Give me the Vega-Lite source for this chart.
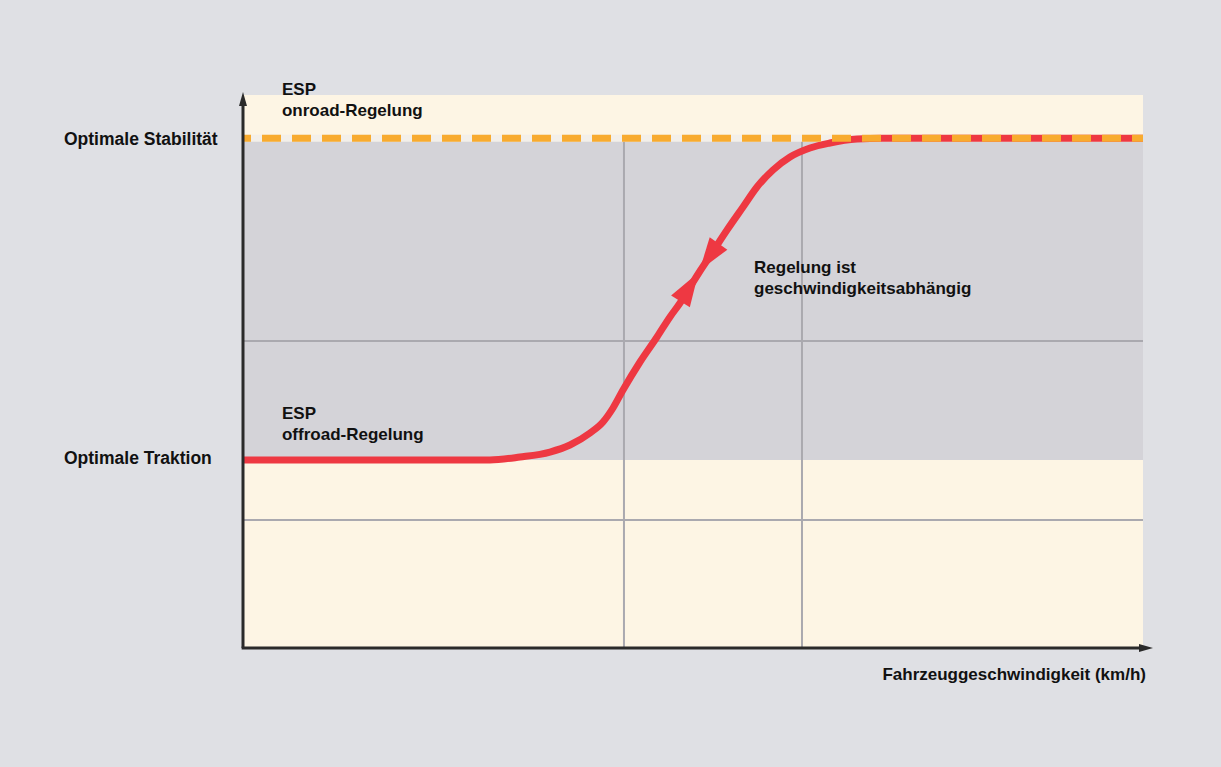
{
  "$schema": "https://vega.github.io/schema/vega-lite/v6.json",
  "width": 900,
  "height": 553,
  "autosize": {"type": "none"},
  "padding": {"left": 243, "top": 95, "right": 78, "bottom": 119},
  "background": "#dfe0e4",
  "config": {
    "view": {"stroke": null, "fill": "#fdf5e4"},
    "text": {"font": "Liberation Sans", "fontWeight": "bold", "fill": "#111111"}
  },
  "datasets": {
    "curve": [
      {"speed": 0, "regelung": 34.0},
      {"speed": 27.44, "regelung": 34.0},
      {"speed": 30.78, "regelung": 34.54},
      {"speed": 34.11, "regelung": 35.44},
      {"speed": 36.33, "regelung": 36.71},
      {"speed": 38.56, "regelung": 38.88},
      {"speed": 40.0, "regelung": 40.87},
      {"speed": 41.11, "regelung": 43.4},
      {"speed": 42.22, "regelung": 46.65},
      {"speed": 44.11, "regelung": 51.72},
      {"speed": 46.0, "regelung": 56.24},
      {"speed": 47.44, "regelung": 59.86},
      {"speed": 48.56, "regelung": 62.39},
      {"speed": 49.67, "regelung": 65.28},
      {"speed": 50.78, "regelung": 68.17},
      {"speed": 51.89, "regelung": 70.89},
      {"speed": 53.78, "regelung": 75.59},
      {"speed": 55.56, "regelung": 79.75},
      {"speed": 57.11, "regelung": 83.36},
      {"speed": 58.89, "regelung": 86.44},
      {"speed": 60.78, "regelung": 88.79},
      {"speed": 63.0, "regelung": 90.42},
      {"speed": 65.22, "regelung": 91.32},
      {"speed": 68.22, "regelung": 92.04},
      {"speed": 71.11, "regelung": 92.2},
      {"speed": 100, "regelung": 92.2}
    ],
    "stability": [
      {"speed": 0, "regelung": 92.2},
      {"speed": 100, "regelung": 92.2}
    ],
    "band": [{"y1": 34.0, "y2": 92.2}],
    "vgrid": [{"speed": 42.33}, {"speed": 62.11}],
    "hgrid": [{"regelung": 23.15}, {"regelung": 55.52}],
    "labels": [
      {"speed": 4.33, "regelung": 100.0, "text": "ESP\nonroad-Regelung"},
      {"speed": 4.33, "regelung": 41.41, "text": "ESP\noffroad-Regelung"},
      {"speed": 56.78, "regelung": 67.81, "text": "Regelung ist\ngeschwindigkeitsabhängig"}
    ],
    "ylabels": [
      {"speed": -19.89, "regelung": 90.96, "text": "Optimale Stabilität"},
      {"speed": -19.89, "regelung": 33.27, "text": "Optimale Traktion"}
    ],
    "xtitle": [{"speed": 100.33, "regelung": -5.79, "text": "Fahrzeuggeschwindigkeit (km/h)"}]
  },
  "layer": [
    {
      "data": {"name": "band"},
      "mark": {"type": "rect", "color": "#d4d3d8"},
      "encoding": {
        "x": {"datum": 0, "type": "quantitative", "scale": {"domain": [0, 100], "nice": false, "zero": false}, "axis": null},
        "x2": {"datum": 100},
        "y": {"field": "y1", "type": "quantitative", "scale": {"domain": [0, 100], "nice": false, "zero": false}, "axis": null},
        "y2": {"field": "y2"}
      }
    },
    {
      "data": {"name": "vgrid"},
      "mark": {"type": "rule", "color": "#aaa9af", "strokeWidth": 2},
      "encoding": {
        "x": {"field": "speed", "type": "quantitative"},
        "y": {"datum": 0},
        "y2": {"datum": 92.2}
      }
    },
    {
      "data": {"name": "hgrid"},
      "mark": {"type": "rule", "color": "#aaa9af", "strokeWidth": 2},
      "encoding": {
        "y": {"field": "regelung", "type": "quantitative"},
        "x": {"datum": 0},
        "x2": {"datum": 100}
      }
    },
    {
      "data": {"name": "stability"},
      "mark": {"type": "line", "color": "#f3efe9", "strokeWidth": 7, "strokeCap": "butt"},
      "encoding": {
        "x": {"field": "speed", "type": "quantitative"},
        "y": {"field": "regelung", "type": "quantitative"}
      }
    },
    {
      "data": {"name": "curve"},
      "mark": {"type": "line", "color": "#ee3842", "strokeWidth": 7, "interpolate": "monotone", "strokeCap": "butt"},
      "encoding": {
        "x": {"field": "speed", "type": "quantitative"},
        "y": {"field": "regelung", "type": "quantitative"}
      }
    },
    {
      "data": {"name": "stability"},
      "mark": {"type": "line", "color": "#f8ab2f", "strokeWidth": 7, "strokeDash": [19, 11], "strokeDashOffset": 11, "strokeCap": "butt"},
      "encoding": {
        "x": {"field": "speed", "type": "quantitative"},
        "y": {"field": "regelung", "type": "quantitative"}
      }
    },
    {
      "data": {"values": [{"speed": 49.61, "regelung": 65.28}]},
      "mark": {"type": "point", "shape": "M0,-1L0.65,1L-0.65,1Z", "filled": true, "color": "#ee3842", "opacity": 1, "size": 1156, "angle": 32},
      "encoding": {
        "x": {"field": "speed", "type": "quantitative"},
        "y": {"field": "regelung", "type": "quantitative"}
      }
    },
    {
      "data": {"values": [{"speed": 51.78, "regelung": 70.7}]},
      "mark": {"type": "point", "shape": "M0,-1L0.65,1L-0.65,1Z", "filled": true, "color": "#ee3842", "opacity": 1, "size": 1100, "angle": 215},
      "encoding": {
        "x": {"field": "speed", "type": "quantitative"},
        "y": {"field": "regelung", "type": "quantitative"}
      }
    },
    {
      "data": {"values": [{"x": 0, "y1": 0, "y2": 98.5}]},
      "mark": {"type": "rule", "color": "#2a2a2a", "strokeWidth": 3},
      "encoding": {
        "x": {"field": "x", "type": "quantitative"},
        "y": {"field": "y1", "type": "quantitative"},
        "y2": {"field": "y2"}
      }
    },
    {
      "data": {"values": [{"y": 0, "x1": -0.15, "x2": 100.2}]},
      "mark": {"type": "rule", "color": "#2a2a2a", "strokeWidth": 3},
      "encoding": {
        "y": {"field": "y", "type": "quantitative"},
        "x": {"field": "x1", "type": "quantitative"},
        "x2": {"field": "x2"}
      }
    },
    {
      "data": {"values": [{"speed": 0, "regelung": 99.28}]},
      "mark": {"type": "point", "shape": "M0,-1L0.57,1L-0.57,1Z", "filled": true, "color": "#2a2a2a", "opacity": 1, "size": 196, "angle": 0},
      "encoding": {
        "x": {"field": "speed", "type": "quantitative"},
        "y": {"field": "regelung", "type": "quantitative"}
      }
    },
    {
      "data": {"values": [{"speed": 100.33, "regelung": 0}]},
      "mark": {"type": "point", "shape": "M0,-1L0.57,1L-0.57,1Z", "filled": true, "color": "#2a2a2a", "opacity": 1, "size": 196, "angle": 90},
      "encoding": {
        "x": {"field": "speed", "type": "quantitative"},
        "y": {"field": "regelung", "type": "quantitative"}
      }
    },
    {
      "data": {"name": "labels"},
      "mark": {"type": "text", "align": "left", "baseline": "alphabetic", "fontSize": 17, "lineBreak": "\n", "lineHeight": 20.5},
      "encoding": {
        "x": {"field": "speed", "type": "quantitative"},
        "y": {"field": "regelung", "type": "quantitative"},
        "text": {"field": "text"}
      }
    },
    {
      "data": {"name": "ylabels"},
      "mark": {"type": "text", "align": "left", "baseline": "alphabetic", "fontSize": 17.5},
      "encoding": {
        "x": {"field": "speed", "type": "quantitative"},
        "y": {"field": "regelung", "type": "quantitative"},
        "text": {"field": "text"}
      }
    },
    {
      "data": {"name": "xtitle"},
      "mark": {"type": "text", "align": "right", "baseline": "alphabetic", "fontSize": 17},
      "encoding": {
        "x": {"field": "speed", "type": "quantitative"},
        "y": {"field": "regelung", "type": "quantitative"},
        "text": {"field": "text"}
      }
    }
  ]
}
